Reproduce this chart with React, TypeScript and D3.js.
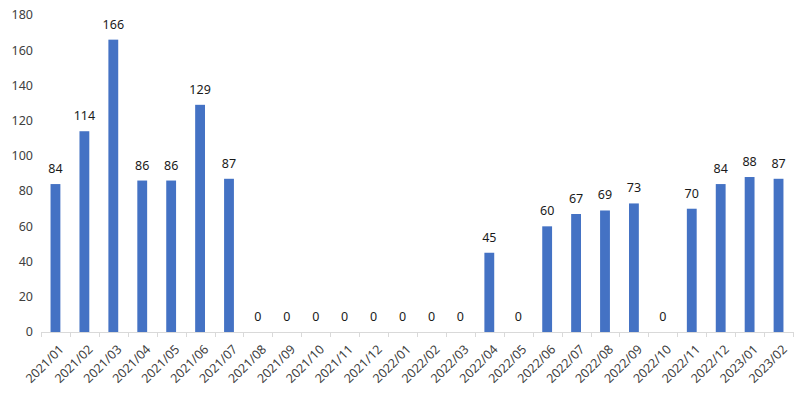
import React, { useEffect, useRef } from 'react'
import * as d3 from 'd3'

const months = [
  '2021/01', '2021/02', '2021/03', '2021/04', '2021/05', '2021/06', '2021/07',
  '2021/08', '2021/09', '2021/10', '2021/11', '2021/12', '2022/01', '2022/02',
  '2022/03', '2022/04', '2022/05', '2022/06', '2022/07', '2022/08', '2022/09',
  '2022/10', '2022/11', '2022/12', '2023/01', '2023/02'
]
const counts = [84, 114, 166, 86, 86, 129, 87, 0, 0, 0, 0, 0, 0, 0, 0, 45, 0, 60, 67, 69, 73, 0, 70, 84, 88, 87]
const yTicks = [0, 20, 40, 60, 80, 100, 120, 140, 160, 180]

const W = 807
const H = 399
const FONT = '"Noto Sans", "DejaVu Sans", sans-serif'

export default function App() {
  const ref = useRef<SVGSVGElement>(null)

  useEffect(() => {
    const svg = d3.select(ref.current)
    svg.selectAll('*').remove()

    const left = 41, right = 793, top = 15, bottom = 332

    const x = d3.scaleBand().domain(months).range([left, right]).paddingInner(0.66).paddingOuter(0.33)
    const y = d3.scaleLinear().domain([0, 180]).range([bottom, top])
    const band = (right - left) / months.length

    // y labels
    svg.append('g')
      .selectAll('text')
      .data(yTicks)
      .join('text')
      .attr('x', 33)
      .attr('y', d => y(d))
      .attr('dy', '0.35em')
      .attr('text-anchor', 'end')
      .attr('font-family', FONT)
      .attr('font-size', 12.5)
      .attr('fill', '#404040')
      .text(d => d)

    // bars
    svg.append('g')
      .selectAll('rect')
      .data(counts)
      .join('rect')
      .attr('x', (d, i) => x(months[i])!)
      .attr('width', x.bandwidth())
      .attr('y', d => y(d))
      .attr('height', d => bottom - y(d))
      .attr('fill', '#4472C4')

    // data labels
    svg.append('g')
      .selectAll('text')
      .data(counts)
      .join('text')
      .attr('x', (d, i) => x(months[i])! + x.bandwidth() / 2)
      .attr('y', d => y(d) - 11)
      .attr('text-anchor', 'middle')
      .attr('font-family', FONT)
      .attr('font-size', 12.5)
      .attr('fill', '#1a1a1a')
      .text(d => d)

    // x axis line + ticks
    const ax = svg.append('g')
    ax.append('line')
      .attr('x1', left).attr('x2', right)
      .attr('y1', bottom + 0.5).attr('y2', bottom + 0.5)
      .attr('stroke', '#D9D9D9')
    ax.selectAll('line.tick')
      .data(d3.range(months.length + 1))
      .join('line')
      .attr('class', 'tick')
      .attr('x1', i => Math.round(left + i * band) + 0.5)
      .attr('x2', i => Math.round(left + i * band) + 0.5)
      .attr('y1', bottom)
      .attr('y2', bottom + 5)
      .attr('stroke', '#D9D9D9')

    // x labels
    svg.append('g')
      .selectAll('text')
      .data(months)
      .join('text')
      .attr('transform', d => `translate(${x(d)! + x.bandwidth() / 2 + 3},${bottom + 12}) rotate(-45)`)
      .attr('text-anchor', 'end')
      .attr('dy', '0.7em')
      .attr('font-family', FONT)
      .attr('font-size', 12.5)
      .attr('fill', '#404040')
      .text(d => d)
  }, [])

  return (
    <svg
      ref={ref}
      width={W}
      height={H}
      style={{ position: 'absolute', left: 0, top: 0, background: '#fff' }}
    />
  )
}
